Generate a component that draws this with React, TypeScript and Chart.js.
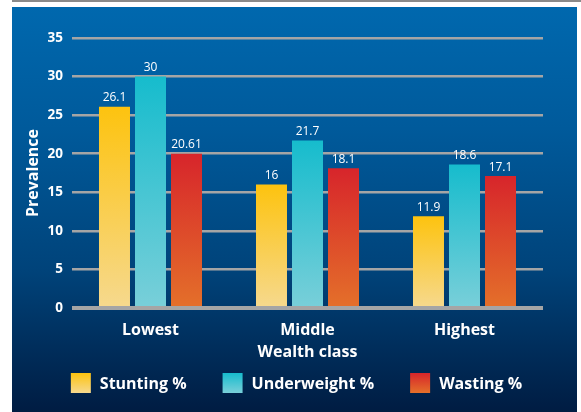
import React, { useEffect, useRef } from "react";
import { Chart, registerables } from "chart.js";

Chart.register(...registerables);

const categories = ["Lowest", "Middle", "Highest"];
const seriesNames = ["Stunting %", "Underweight %", "Wasting %"];
const stunting = [26.1, 16, 11.9];
const underweight = [30, 21.7, 18.6];
const wasting = [20, 18.1, 17.1];
const stuntingLabels = ["26.1", "16", "11.9"];
const underweightLabels = ["30", "21.7", "18.6"];
const wastingLabels = ["20.61", "18.1", "17.1"];
const yMin = 0;
const yMax = 35;
const yStep = 5;

const FONT = "'Open Sans', 'Noto Sans', sans-serif";

const gradientStops: [string, string][] = [
  ["#fdc30f", "#f6d98e"],
  ["#16bccd", "#79cfd9"],
  ["#d7252b", "#e4702a"],
];

function barFill(index: number) {
  return (c: any) => {
    const chart = c.chart;
    const stops = gradientStops[index];
    if (!chart.chartArea || c.type !== "data") return stops[0];
    const y = chart.scales.y;
    const top = y.getPixelForValue(c.raw);
    const bottom = y.getPixelForValue(0);
    const g = chart.ctx.createLinearGradient(0, top, 0, bottom);
    g.addColorStop(0, stops[0]);
    g.addColorStop(1, stops[1]);
    return g;
  };
}

const valueLabelPlugin = {
  id: "valueLabels",
  afterDatasetsDraw(chart: any) {
    const ctx = chart.ctx;
    const labelSets = [stuntingLabels, underweightLabels, wastingLabels];
    ctx.save();
    ctx.fillStyle = "#ffffff";
    ctx.font = `12px ${FONT}`;
    ctx.textAlign = "center";
    ctx.textBaseline = "bottom";
    chart.data.datasets.forEach((_: any, di: number) => {
      const meta = chart.getDatasetMeta(di);
      meta.data.forEach((el: any, i: number) => {
        ctx.fillText(labelSets[di][i], el.x, el.y - 3);
      });
    });
    ctx.restore();
  },
};

const legendPlugin = {
  id: "customLegend",
  afterDraw(chart: any) {
    const ctx = chart.ctx;
    const box = 20;
    const gapText = 9;
    const gapItem = 36;
    ctx.save();
    ctx.font = `bold 16px ${FONT}`;
    ctx.textBaseline = "middle";
    ctx.textAlign = "left";
    const widths = seriesNames.map((n) => box + gapText + ctx.measureText(n).width);
    const total = widths.reduce((a, b) => a + b, 0) + gapItem * (widths.length - 1);
    const cx = chart.width / 2 + 2;
    const cy = chart.height - 29;
    let x = cx - total / 2;
    seriesNames.forEach((name, i) => {
      const stops = gradientStops[i];
      const g = ctx.createLinearGradient(0, cy - box / 2, 0, cy + box / 2);
      g.addColorStop(0, stops[0]);
      g.addColorStop(1, stops[1]);
      ctx.fillStyle = g;
      ctx.fillRect(x, cy - box / 2, box, box);
      ctx.fillStyle = "#ffffff";
      ctx.fillText(name, x + box + gapText, cy + 1);
      x += widths[i] + gapItem;
    });
    ctx.restore();
  },
};

export default function App() {
  const canvasRef = useRef<HTMLCanvasElement | null>(null);

  useEffect(() => {
    if (!canvasRef.current) return;
    const chart = new Chart(canvasRef.current, {
      type: "bar",
      data: {
        labels: categories,
        datasets: [
          { label: seriesNames[0], data: stunting, backgroundColor: barFill(0) },
          { label: seriesNames[1], data: underweight, backgroundColor: barFill(1) },
          { label: seriesNames[2], data: wasting, backgroundColor: barFill(2) },
        ],
      },
      options: {
        animation: false,
        responsive: true,
        maintainAspectRatio: false,
        layout: { padding: { top: 31, left: 0, right: 34, bottom: 50 } },
        datasets: {
          bar: { categoryPercentage: 0.688, barPercentage: 0.861 },
        },
        plugins: {
          legend: { display: false },
          tooltip: { enabled: false },
        },
        scales: {
          x: {
            grid: { display: false },
            border: { display: false },
            ticks: {
              color: "#ffffff",
              font: { family: FONT, size: 16, weight: "bold" },
              padding: 5,
            },
            title: {
              display: true,
              text: "Wealth class",
              color: "#ffffff",
              font: { family: FONT, size: 16, weight: "bold" },
              padding: { top: 0, bottom: 0 },
            },
            afterFit(scale: any) {
              scale.height = 54;
            },
          },
          y: {
            min: yMin,
            max: yMax,
            border: { display: false },
            grid: {
              color: "#a5a5a5",
              lineWidth: (c: any) => (c.tick && c.tick.value === 0 ? 4 : 2.5),
              drawTicks: false,
            },
            ticks: {
              stepSize: yStep,
              color: "#ffffff",
              font: { family: FONT, size: 13.5, weight: "bold" },
              padding: 9,
            },
            title: {
              display: true,
              text: "Prevalence",
              color: "#ffffff",
              font: { family: FONT, size: 16, weight: "bold" },
              padding: { top: 12, bottom: 0 },
            },
            afterFit(scale: any) {
              scale.width = 60;
            },
          },
        },
      },
      plugins: [valueLabelPlugin, legendPlugin],
    } as any);
    return () => chart.destroy();
  }, []);

  return (
    <div
      style={{
        position: "fixed",
        left: 0,
        top: 0,
        width: 581,
        height: 412,
        background: "#ffffff",
        overflow: "hidden",
      }}
    >
      <div
        style={{
          position: "absolute",
          left: 12,
          top: 0,
          width: 569,
          height: 2,
          background: "#8a8a8a",
        }}
      />
      <div
        style={{
          position: "absolute",
          left: 12,
          top: 7,
          width: 565,
          height: 405,
          background:
            "linear-gradient(to bottom, #0068ae 0%, #005a9b 30%, #00437a 65%, #001c42 100%)",
        }}
      >
        <canvas ref={canvasRef} />
      </div>
    </div>
  );
}
